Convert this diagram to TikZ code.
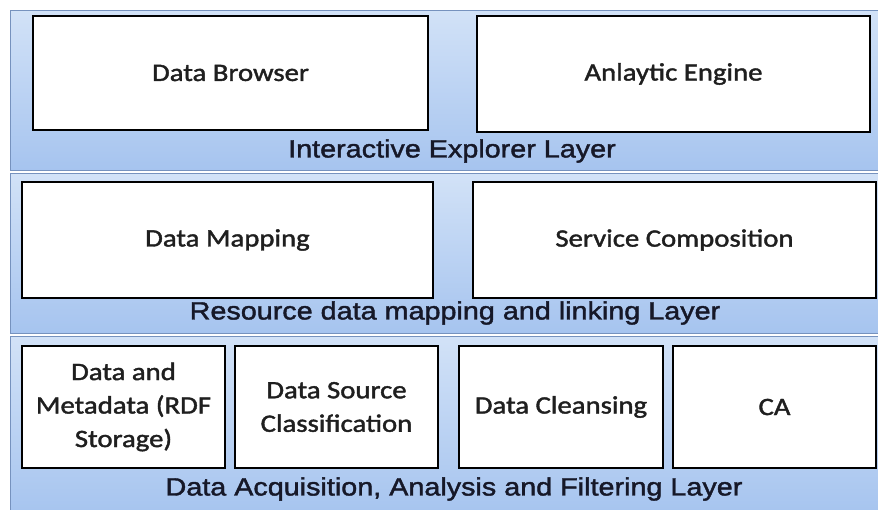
\documentclass[tikz,border=0pt]{standalone}
\usepackage{fontspec}
\newfontfamily\boxfont[FakeStretch=1.15,FakeBold=1.6]{Carlito}
\newfontfamily\layerfont[FakeStretch=1.15,FakeBold=1.6]{Liberation Sans}
\usetikzlibrary{positioning}
\definecolor{bandtop}{RGB}{210,226,247}
\definecolor{bandbot}{RGB}{166,196,239}
\definecolor{bandedge}{RGB}{118,146,190}
\definecolor{labeltext}{RGB}{22,24,40}

\begin{document}
\begin{tikzpicture}
	[x=1pt, y=-1pt,
	 band/.style = {top color=bandtop, bottom color=bandbot, draw=bandedge, line width=1pt},
	 box/.style = {draw, line width=2.4pt, fill=white, align=center, text=black!88,
	               font=\boxfont\fontsize{25}{33.5}\selectfont},
	 layer/.style = {text=labeltext, font=\layerfont\fontsize{25}{30}\selectfont}]
	\useasboundingbox (0,0) rectangle (878,509);
	% layer bands
	\shade[band] (10,10) rectangle (882,170);
	\shade[band] (10,173) rectangle (882,333);
	\shade[band] (10,336) rectangle (882,515);
	% interactive explorer layer
	\node[box, minimum width=395, minimum height=114] (browser) at (230.5,73) {Data Browser};
	\node[box, minimum width=393, minimum height=116] (engine) at (673.5,74) {Anlaytic Engine};
	\node[layer] (explorer) at (452,151) {Interactive Explorer Layer};
	% resource data mapping and linking layer
	\node[box, minimum width=411, minimum height=116] (mapping) at (227.5,240) {Data Mapping};
	\node[box, minimum width=403, minimum height=116] (composition) at (674.5,240) {Service Composition};
	\node[layer] (resource) at (455,313) {Resource data mapping and linking Layer};
	% data acquisition, analysis and filtering layer
	\node[box, minimum width=203, minimum height=122] (storage) at (123.5,407) {Data and\\Metadata (RDF\\Storage)};
	\node[box, minimum width=203, minimum height=122] (classification) at (336.5,407) {Data Source\\Classification};
	\node[box, minimum width=204, minimum height=122] (cleansing) at (561,407) {Data Cleansing};
	\node[box, minimum width=203, minimum height=122] (ca) at (774.5,407) {CA};
	\node[layer] (acquisition) at (454,489) {Data Acquisition, Analysis and Filtering Layer};
\end{tikzpicture}
\end{document}
